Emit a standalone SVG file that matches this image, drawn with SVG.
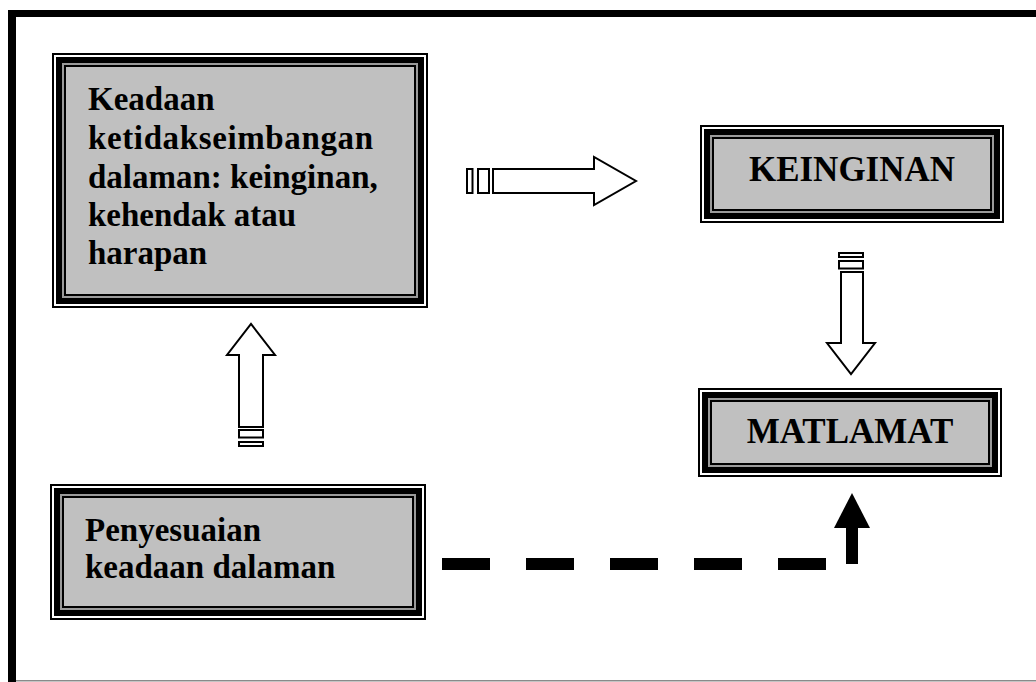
<svg xmlns="http://www.w3.org/2000/svg" width="1036" height="682" viewBox="0 0 1036 682">
  <style>
    .b1 { fill: #000; }
    .b2 { fill: #fff; }
    .b3 { fill: #000; }
    .b4 { fill: #9a9a9a; }
    .b5 { fill: #000; }
    .b6 { fill: #c0c0c0; }
    .label { font-family: "Liberation Serif", "Times New Roman", serif; font-weight: bold; font-size: 33px; fill: #000; }
    .caps { font-size: 35px; text-anchor: middle; }
    .hollow { fill: #fff; stroke: #000; stroke-width: 2; stroke-linejoin: miter; }
  </style>

  <!-- page frame -->
  <rect x="0" y="0" width="1036" height="682" fill="#fff"/>
  <rect x="8" y="10" width="1028" height="7" fill="#000"/>
  <rect x="8" y="10" width="8" height="672" fill="#000"/>
  <rect x="16" y="680" width="1020" height="1.5" fill="#8a8a8a"/>

  <!-- nodes: each box is a nested triple frame around a grey panel -->
  <g id="node-ketidakseimbangan">
    <rect class="b1" x="52" y="53" width="376" height="255"/>
    <rect class="b2" x="54" y="55" width="372" height="251"/>
    <rect class="b3" x="56" y="57" width="368" height="247"/>
    <rect class="b4" x="62" y="63" width="356" height="235"/>
    <rect class="b5" x="64" y="65" width="352" height="231"/>
    <rect class="b6" x="66" y="67" width="348" height="227"/>
    <text class="label" x="88">
      <tspan x="88" y="110">Keadaan</tspan>
      <tspan x="88" y="149" textLength="285" lengthAdjust="spacing">ketidakseimbangan</tspan>
      <tspan x="88" y="188">dalaman: keinginan,</tspan>
      <tspan x="88" y="226">kehendak atau</tspan>
      <tspan x="88" y="264">harapan</tspan>
    </text>
  </g>

  <g id="node-keinginan">
    <rect class="b1" x="700" y="125" width="304" height="98"/>
    <rect class="b2" x="702" y="127" width="300" height="94"/>
    <rect class="b3" x="704" y="129" width="296" height="90"/>
    <rect class="b4" x="710" y="135" width="284" height="78"/>
    <rect class="b5" x="712" y="137" width="280" height="74"/>
    <rect class="b6" x="714" y="139" width="276" height="70"/>
    <text class="label caps" x="852" y="181">KEINGINAN</text>
  </g>

  <g id="node-matlamat">
    <rect class="b1" x="698" y="388" width="304" height="89"/>
    <rect class="b2" x="700" y="390" width="300" height="85"/>
    <rect class="b3" x="702" y="392" width="296" height="81"/>
    <rect class="b4" x="708" y="398" width="284" height="69"/>
    <rect class="b5" x="710" y="400" width="280" height="65"/>
    <rect class="b6" x="712" y="402" width="276" height="61"/>
    <text class="label caps" x="850" y="443">MATLAMAT</text>
  </g>

  <g id="node-penyesuaian">
    <rect class="b1" x="50" y="484" width="376" height="136"/>
    <rect class="b2" x="52" y="486" width="372" height="132"/>
    <rect class="b3" x="54" y="488" width="368" height="128"/>
    <rect class="b4" x="60" y="494" width="356" height="116"/>
    <rect class="b5" x="62" y="496" width="352" height="112"/>
    <rect class="b6" x="64" y="498" width="348" height="108"/>
    <text class="label">
      <tspan x="85" y="541">Penyesuaian</tspan>
      <tspan x="85" y="578">keadaan dalaman</tspan>
    </text>
  </g>

  <!-- connectors -->
  <g id="connectors">
    <!-- hollow striped arrow: right -->
    <rect class="hollow" x="467" y="169" width="5.5" height="24"/>
    <rect class="hollow" x="478" y="169" width="11" height="24"/>
    <path class="hollow" d="M493,169 H594 V157 L636,181 L594,205 V193 H493 Z"/>

    <!-- hollow striped arrow: down -->
    <rect class="hollow" x="839" y="253" width="24" height="4"/>
    <rect class="hollow" x="839" y="261" width="24" height="7.5"/>
    <path class="hollow" d="M841,272 H863 V343 H875 L851,374 L827,343 H841 Z"/>

    <!-- hollow striped arrow: up -->
    <path class="hollow" d="M239,427 V355 H227 L251,324 L275,355 H263 V427 Z"/>
    <rect class="hollow" x="239" y="430" width="24" height="7.5"/>
    <rect class="hollow" x="239" y="442" width="24" height="4"/>

    <!-- dashed route with solid head into MATLAMAT -->
    <line x1="442" y1="564" x2="826" y2="564" stroke="#000" stroke-width="12" stroke-dasharray="48 36"/>
    <rect x="846" y="527" width="12" height="37" fill="#000"/>
    <polygon points="834,528 870,528 852,493" fill="#000"/>
  </g>
</svg>
